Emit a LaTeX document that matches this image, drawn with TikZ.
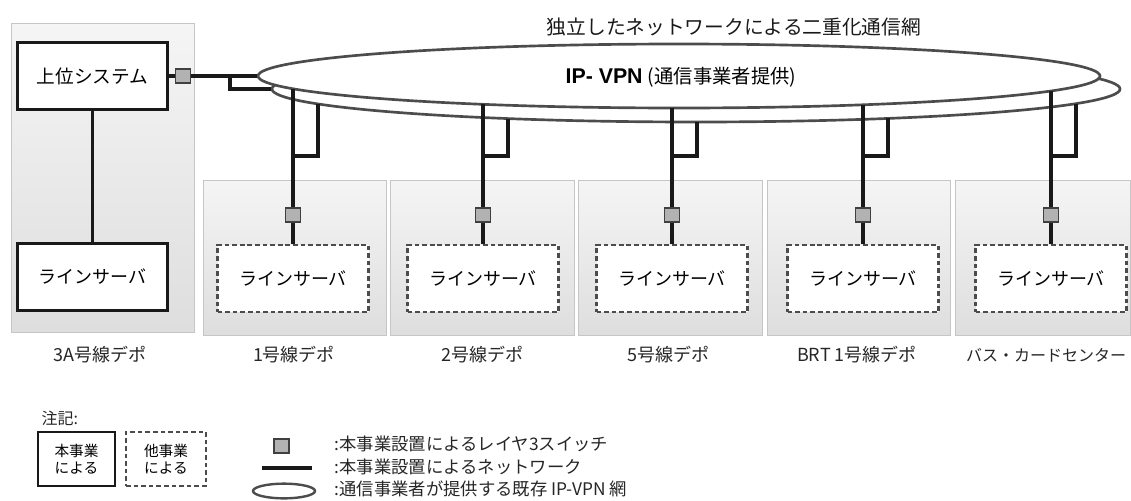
\documentclass[tikz,border=0pt]{standalone}
\usepackage{fontspec}
\setmainfont{Noto Sans CJK JP}
\newfontfamily\arialfont{Liberation Sans}
\usetikzlibrary{shapes.geometric}
\tikzset{
  panel/.style={draw=gray!45, line width=0.6pt, top color=gray!8, bottom color=gray!26},
  ownbox/.style={draw=black!90, line width=2.4pt, fill=white, minimum width=112.5pt, minimum height=50.25pt, inner sep=0pt, font=\fontsize{13.5}{16}\selectfont},
  othbox/.style={draw=gray!60!black, dash pattern=on 3.5pt off 2.2pt, line width=1.8pt, fill=white, minimum width=113.25pt, minimum height=50.25pt, inner sep=0pt, font=\fontsize{13.5}{16}\selectfont},
  lthreesw/.style={draw=gray!50!black, fill=gray!60, line width=0.8pt, minimum width=11.25pt, minimum height=10.5pt, inner sep=0pt},
  net/.style={draw=black!90, line width=2.5pt},
  vpn/.style={draw=gray!60!black, line width=2pt, fill=white, ellipse, inner sep=0pt},
  lbl/.style={font=\fontsize{13.5}{16}\selectfont, text=black!85},
  legtext/.style={anchor=west, font=\fontsize{13}{15}\selectfont, text=black!85},
}
\begin{document}
\begin{tikzpicture}[x=0.75pt,y=-0.75pt]
\useasboundingbox (0,0) rectangle (1131,500);
% panels
\path[panel] (11,23) rectangle (194,332);
\foreach \a/\b in {203/386,390/574,578/762,767/950,955/1130}{
  \path[panel] (\a,180) rectangle (\b,335);
}
% title
\node[font=\fontsize{14.8}{17}\selectfont, text=black!90] (title) at (734,27) {独立したネットワークによる二重化通信網};
% VPN ellipses
\node[vpn, minimum width=636pt, minimum height=49.5pt] (vpnB) at (696,89) {};
\node[vpn, minimum width=631.5pt, minimum height=48pt] (vpnA) at (679,76) {};
\node (vpnlbl) at (681,77) {{\arialfont\bfseries\fontsize{16}{18}\selectfont IP- VPN}\hspace{4pt}{\fontsize{14.5}{17}\selectfont (通信事業者提供)}};
% 3A depot
\node[ownbox, font=\fontsize{14}{16}\selectfont] (sys) at (92.5,76) {上位システム};
\node[ownbox] (ls0) at (92.5,277) {ラインサーバ};
\node[lthreesw] (sw0) at (183,76) {};
\coordinate (br0) at (230,76);
\draw[net] (sys) -- (ls0);
\draw[net] (sys.east) -- (sw0.west);
\draw[net] (sw0.east) -- (vpnA.west);
\draw[net] (br0) |- (vpnB.west);
% other depots
\foreach \i/\m in {1/293,2/483,3/672,4/863,5/1051}{
  \pgfmathsetmacro\uy{76+32*sqrt(1-((\m-679)/421)^2)}
  \pgfmathsetmacro\ly{89+33*sqrt(1-((\m+25-696)/424)^2)}
  \coordinate (u\i) at (\m,\uy);
  \coordinate (l\i) at (\m+25,\ly);
  \coordinate (j\i) at (\m,156);
  \node[lthreesw] (sw\i) at (\m,215) {};
  \node[othbox] (ls\i) at (\m,278.5) {ラインサーバ};
  \draw[net] (u\i) -- (sw\i) -- (ls\i);
  \draw[net] (l\i) |- (j\i);
}
% depot labels
\node[lbl] (d0) at (100,355) {3A号線デポ};
\node[lbl] (d1) at (294,355) {1号線デポ};
\node[lbl] (d2) at (482,355) {2号線デポ};
\node[lbl] (d3) at (668,355) {5号線デポ};
\node[lbl] (d4) at (857,355) {BRT 1号線デポ};
\node[lbl, font=\fontsize{12}{15}\selectfont] (d5) at (1046,355) {バス・カードセンター};
% legend
\node[anchor=west, font=\fontsize{12}{14}\selectfont, text=black!85] (note) at (37,418) {注記:};
\node[ownbox, line width=2.2pt, minimum width=57.75pt, minimum height=40.5pt, font=\fontsize{11}{13}\selectfont, align=center] (lg1) at (76.5,459) {本事業\\による};
\node[othbox, line width=1.5pt, minimum width=60pt, minimum height=40.5pt, font=\fontsize{11}{13}\selectfont, align=center] (lg2) at (166,459) {他事業\\による};
\node[lthreesw] (lgsw) at (281.5,446) {};
\coordinate (lgla) at (262,468);
\coordinate (lglb) at (312,468);
\draw[net] (lgla) -- (lglb);
\node[vpn, line width=1.8pt, minimum width=46.5pt, minimum height=11pt] (lgvpn) at (284,491) {};
\node[legtext] (lt1) at (330,444) {:本事業設置によるレイヤ3スイッチ};
\node[legtext] (lt2) at (330,467) {:本事業設置によるネットワーク};
\node[legtext] (lt3) at (330,489) {:通信事業者が提供する既存 IP-VPN 網};
\end{tikzpicture}
\end{document}
